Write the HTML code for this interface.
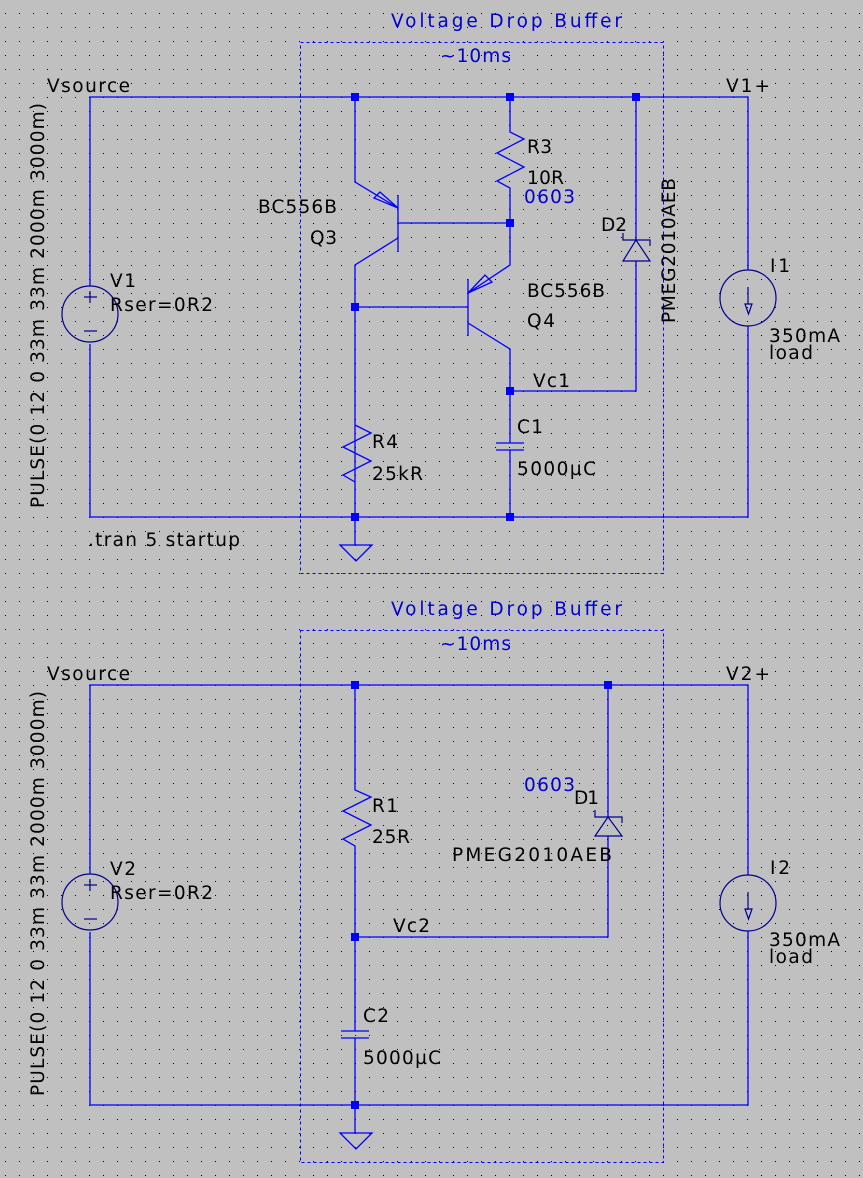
<!DOCTYPE html>
<html><head><meta charset="utf-8"><style>
html,body{margin:0;padding:0;background:#c0c0c0;}
svg{display:block;}
text{font-family:"DejaVu Sans","Liberation Sans",sans-serif;font-size:18.5px;fill:#000;}
.b{fill:#0000d0;}
</style></head><body>
<svg width="863" height="1178" viewBox="0 0 863 1178" xmlns="http://www.w3.org/2000/svg">
<defs>
<pattern id="g" x="5" y="13" width="14" height="14" patternUnits="userSpaceOnUse"><rect x="0" y="0" width="1" height="1" fill="#000"/></pattern>
</defs>
<rect width="863" height="1178" fill="#c0c0c0"/>
<rect width="863" height="1178" fill="url(#g)"/>

<g fill="none" stroke="#0000ff" stroke-width="1" stroke-dasharray="3,3">
<rect x="300.5" y="42.5" width="363" height="531"/>
<rect x="300.5" y="630.5" width="363" height="532"/>
</g>

<g fill="none" stroke="#0000ff" stroke-width="1.3">
<polyline points="90,286 90,97 748,97 748,270"/>
<polyline points="90,344 90,517 748,517 748,326"/>
<polyline points="355,97 355,182 398,208"/>
<line x1="398" y1="195" x2="398" y2="252"/>
<line x1="398" y1="223" x2="510" y2="223"/>
<polyline points="398,238 355,265 355,517"/>
<polyline points="510,97 510,132 524,139 497,153 524,167 497,181 510,188 510,265 468,293"/>
<line x1="468" y1="279" x2="468" y2="336"/>
<line x1="355" y1="307" x2="468" y2="307"/>
<polyline points="468,323 510,349 510,443"/>
<line x1="510" y1="450" x2="510" y2="517"/>
<line x1="496" y1="443" x2="524" y2="443"/>
<line x1="496" y1="450" x2="524" y2="450"/>
<polyline points="510,391 636,391 636,261"/>
<line x1="636" y1="240" x2="636" y2="97"/>
<polyline points="355,425 371,433 343,447 371,461 343,475 355,482"/>
<polyline points="355,517 355,545"/>
<polygon points="340,545 372,545 356,561"/>
<polygon points="398,208 374,198 380,192"/>
<polygon points="468,293 485,275 492,282"/>
</g>
<g fill="none" stroke="#000090" stroke-width="1.2">
<circle cx="90" cy="314" r="28"/>
<line x1="84" y1="297" x2="97" y2="297"/><line x1="90" y1="291" x2="90" y2="303"/>
<line x1="84" y1="331" x2="97" y2="331"/>
<circle cx="748" cy="298" r="28"/>
<line x1="748" y1="287" x2="748" y2="304"/>
<polygon points="745,304 752,304 748.5,314"/>
<polygon points="636,240 623,261 650,261"/>
<polyline points="623,233 623,240 650,240 650,246"/>
</g>
<g fill="#0000ff">
<rect x="351" y="93" width="8" height="8"/><rect x="506" y="93" width="8" height="8"/><rect x="632" y="93" width="8" height="8"/>
<rect x="506" y="219" width="8" height="8"/><rect x="351" y="303" width="8" height="8"/><rect x="506" y="387" width="8" height="8"/>
<rect x="351" y="513" width="8" height="8"/><rect x="506" y="513" width="8" height="8"/>
</g>

<text class="b" x="391" y="27" textLength="231">Voltage Drop Buffer</text>
<text class="b" x="440" y="62" textLength="71">~10ms</text>
<text x="47" y="92" textLength="83">Vsource</text>
<text x="726" y="92" textLength="44">V1+</text>
<text x="258" y="213" textLength="79">BC556B</text>
<text x="310" y="244" textLength="27">Q3</text>
<text x="527" y="153" textLength="25">R3</text>
<text x="527" y="184" textLength="37">10R</text>
<text class="b" x="524" y="203" textLength="51">0603</text>
<text x="601" y="231" textLength="26">D2</text>
<text x="527" y="297" textLength="78">BC556B</text>
<text x="527" y="327" textLength="28">Q4</text>
<text x="533" y="387" textLength="37">Vc1</text>
<text x="517" y="433" textLength="26">C1</text>
<text x="517" y="475" textLength="79">5000µC</text>
<text x="372" y="448" textLength="26">R4</text>
<text x="372" y="480" textLength="51">25kR</text>
<text x="110" y="287" textLength="26">V1</text>
<text x="110" y="311" textLength="103">Rser=0R2</text>
<text x="770" y="272" textLength="20">I1</text>
<text x="769" y="342" textLength="71">350mA</text>
<text x="769" y="359" textLength="44">load</text>
<text x="88" y="546" textLength="152">.tran 5 startup</text>
<text transform="translate(675,323) rotate(-90)" x="0" y="0" textLength="145">PMEG2010AEB</text>
<text transform="translate(44,508) rotate(-90)" x="0" y="0" textLength="405">PULSE(0 12 0 33m 33m 2000m 3000m)</text>

<g fill="none" stroke="#0000ff" stroke-width="1.3">
<polyline points="90,874 90,685 748,685 748,875"/>
<polyline points="90,932 90,1105 748,1105 748,931"/>
<polyline points="355,685 355,790 371,797 343,811 371,825 343,839 355,846 355,1031"/>
<line x1="355" y1="1038" x2="355" y2="1105"/>
<line x1="341" y1="1031" x2="369" y2="1031"/>
<line x1="341" y1="1038" x2="369" y2="1038"/>
<polyline points="355,937 608,937 608,836"/>
<line x1="608" y1="817" x2="608" y2="685"/>
<polyline points="355,1105 355,1133"/>
<polygon points="340,1133 372,1133 356,1149"/>
</g>
<g fill="none" stroke="#000090" stroke-width="1.2">
<circle cx="90" cy="902" r="28"/>
<line x1="84" y1="885" x2="97" y2="885"/><line x1="90" y1="879" x2="90" y2="891"/>
<line x1="84" y1="919" x2="97" y2="919"/>
<circle cx="748" cy="903" r="28"/>
<line x1="748" y1="892" x2="748" y2="909"/>
<polygon points="745,909 752,909 748.5,919"/>
<polygon points="608,817 595,836 622,836"/>
<polyline points="595,810 595,817 622,817 622,823"/>
</g>
<g fill="#0000ff">
<rect x="351" y="681" width="8" height="8"/><rect x="604" y="681" width="8" height="8"/>
<rect x="351" y="933" width="8" height="8"/><rect x="351" y="1101" width="8" height="8"/>
</g>

<text class="b" x="391" y="615" textLength="231">Voltage Drop Buffer</text>
<text class="b" x="440" y="650" textLength="71">~10ms</text>
<text x="47" y="680" textLength="83">Vsource</text>
<text x="726" y="680" textLength="44">V2+</text>
<text class="b" x="524" y="791" textLength="51">0603</text>
<text x="574" y="804" textLength="25">D1</text>
<text x="452" y="861" textLength="160">PMEG2010AEB</text>
<text x="372" y="812" textLength="26">R1</text>
<text x="372" y="843" textLength="38">25R</text>
<text x="393" y="932" textLength="37">Vc2</text>
<text x="363" y="1022" textLength="26">C2</text>
<text x="363" y="1064" textLength="78">5000µC</text>
<text x="110" y="875" textLength="26">V2</text>
<text x="110" y="899" textLength="103">Rser=0R2</text>
<text x="770" y="874" textLength="20">I2</text>
<text x="769" y="946" textLength="71">350mA</text>
<text x="769" y="963" textLength="44">load</text>
<text transform="translate(44,1096) rotate(-90)" x="0" y="0" textLength="405">PULSE(0 12 0 33m 33m 2000m 3000m)</text>
</svg>
</body></html>
